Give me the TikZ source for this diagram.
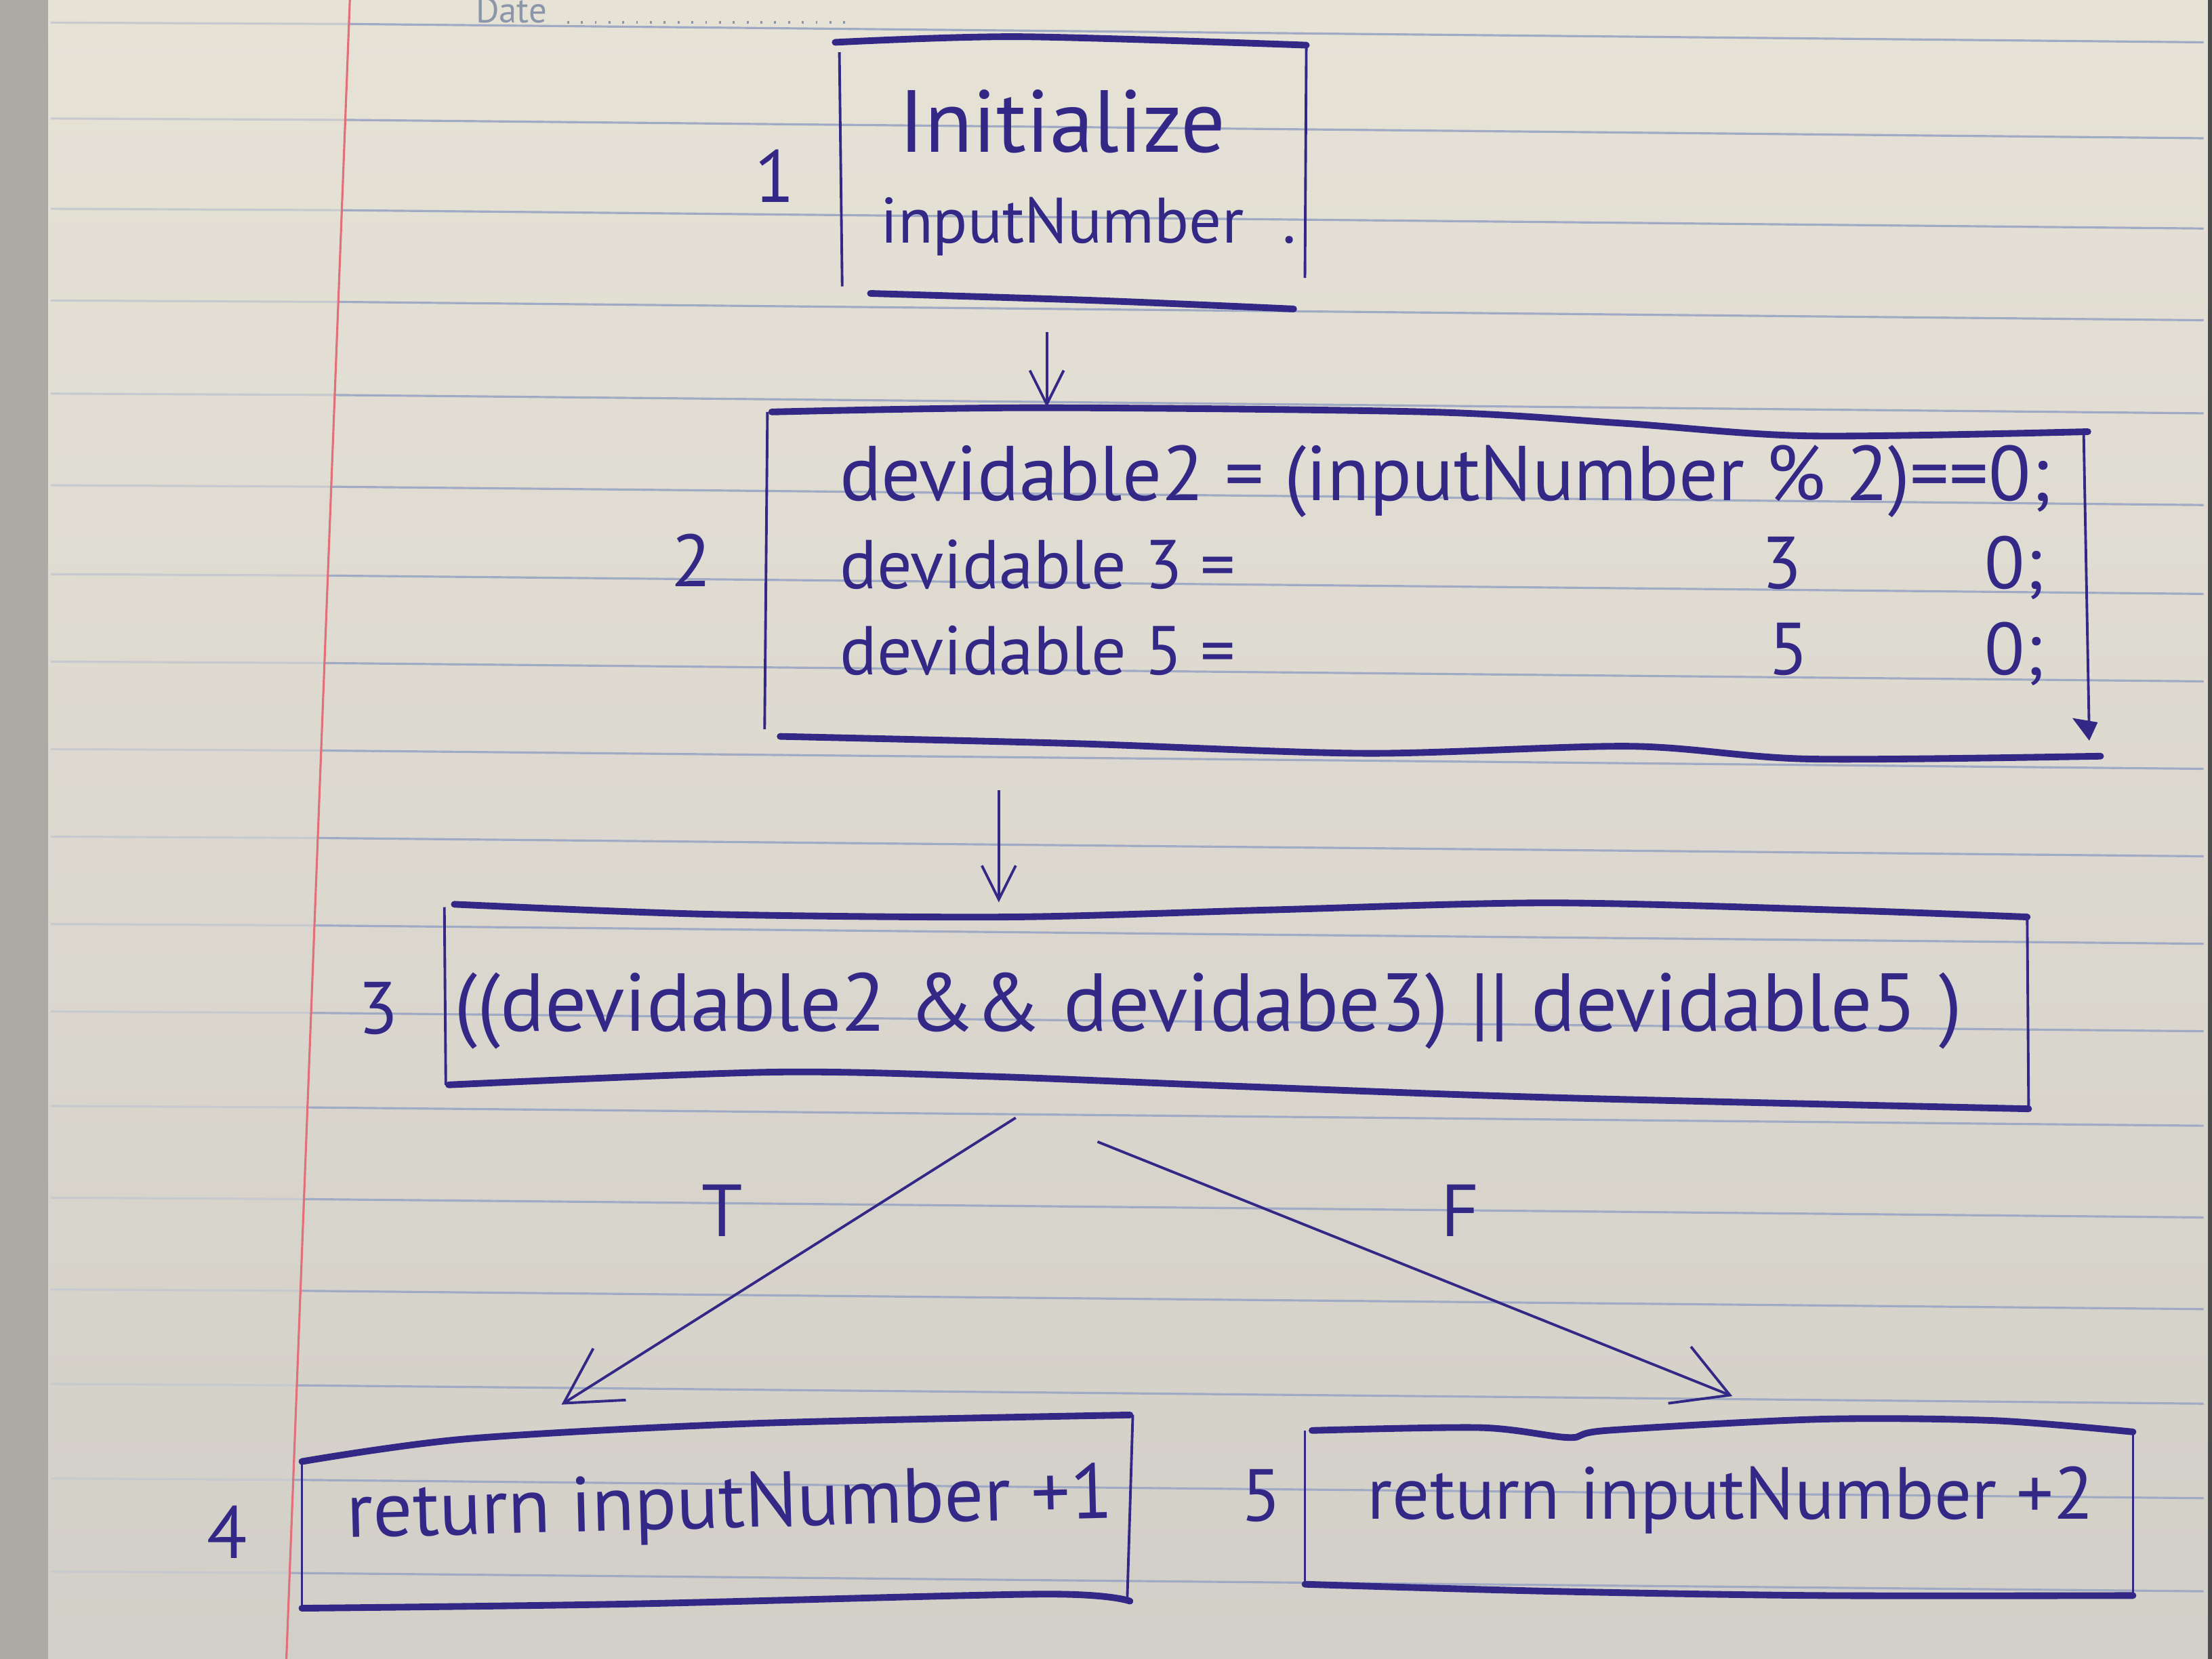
\documentclass[tikz,border=0pt]{standalone}
\usepackage{fontspec}
\setmainfont{PT Sans}
\usetikzlibrary{arrows.meta,calc,fit}

\definecolor{ink}{RGB}{52,40,135}
\definecolor{paper}{RGB}{230,226,214}
\definecolor{paperlow}{RGB}{210,207,200}
\definecolor{ruling}{RGB}{160,170,196}
\definecolor{margin}{RGB}{226,112,122}
\definecolor{printgrey}{RGB}{140,150,170}

\begin{document}
\begin{tikzpicture}[x=0.2082mm,y=-0.2082mm,
    hand/.style={text=ink,font=\fontsize{31}{38}\selectfont,inner sep=0pt},
    area/.style={inner sep=0pt},
    side/.style={draw=ink,line width=1.1pt},
    edge/.style={draw=ink,line width=2.8pt,line cap=round,line join=round},
    arr/.style={draw=ink,line width=1.1pt,-{Straight Barb[length=5mm,width=5mm]}},
    bigarr/.style={draw=ink,line width=1.1pt,-{Straight Barb[length=8mm,width=9mm]}},
    ruled/.style={draw=ruling,line width=0.9pt}]

    % paper
    \shade[top color=paper,bottom color=paperlow] (0,0) rectangle (1568,1176);
    \useasboundingbox (0,0) rectangle (1568,1176);
    \fill[black!18!paperlow] (0,0) rectangle (34,1176);
    \fill[black!70] (1565,0) rectangle (1568,1176);
    \foreach \ry in {20,88,152,217,283,348,411,473,535,597,659,721,788,853,918,985,1052,1118} {
      \pgfmathsetmacro\mx{248-0.03827*\ry}
      \draw[ruled,draw=ruling!45!paper] (36,\ry-4) -- (\mx,\ry-3);
      \draw[ruled] (\mx,\ry-3) -- (1562,\ry+10);
    }
    \draw[margin,line width=0.9pt] (248,0) -- (203,1176);
    \node[text=printgrey,font=\fontsize{15}{15}\selectfont,anchor=base west,inner sep=0pt] (date) at (337,16) {Date};
    \draw[printgrey,line width=1.2pt,dash pattern=on 0.8pt off 5pt] ($(date.base east)+(14,0)$) -- (600,16);

    % box 1
    \node[area,fit={(595,26) (926,219)}] (b1) {};
    \draw[side] (595,37) -- (597,203);
    \draw[side] (926,32) -- (925,197);
    \draw[edge] plot[smooth] coordinates {(592,30) (722,26) (926,32)};
    \draw[edge] plot[smooth] coordinates {(617,208) (777,213) (917,219)};
    \node[hand,font=\fontsize{37}{40}\selectfont,anchor=base] (t1a) at (753,108) {Initialize};
    \node[hand,font=\fontsize{27}{30}\selectfont,anchor=base west] (t1b) at (624,172) {inputNumber\hspace{0.6em}.};
    \node[hand] (l1) at (549,125) {1};

    % box 2
    \node[area,fit={(544,289) (1489,538)}] (b2) {};
    \draw[side] (544,292) -- (542,517);
    \draw[side] (1477,306) -- (1481,522);
    \draw[edge] plot[smooth] coordinates {(547,292) (735,289) (1012,292) (1150,300) (1282,309) (1480,306)};
    \draw[edge] plot[smooth] coordinates {(553,522) (760,527) (968,534) (1156,529) (1282,538) (1489,536)};
    \fill[ink] (1469,509) -- (1487,512) -- (1481,525) -- cycle;
    \node[hand,font=\fontsize{32.6}{38}\selectfont,anchor=base west] (t2a) at (595,355) {devidable2 = (inputNumber \% 2)==0;};
    \node[hand,font=\fontsize{29}{38}\selectfont,anchor=base west] (t2b) at (595,417) {devidable 3 =};
    \node[hand,anchor=base] (t2b3) at (1263,417) {3};
    \node[hand,anchor=base] (t2b0) at (1428,417) {0;};
    \node[hand,font=\fontsize{29}{38}\selectfont,anchor=base west] (t2c) at (595,478) {devidable 5 =};
    \node[hand,anchor=base] (t2c5) at (1268,478) {5};
    \node[hand,anchor=base] (t2c0) at (1428,478) {0;};
    \node[hand] (l2) at (490,397) {2};

    % box 3
    \node[area,fit={(315,640) (1438,786)}] (b3) {};
    \draw[side] (315,643) -- (316,769);
    \draw[side] (1437,650) -- (1438,786);
    \draw[edge] plot[smooth] coordinates {(322,641) (500,648) (715,650) (900,645) (1097,640) (1300,645) (1437,650)};
    \draw[edge] plot[smooth] coordinates {(318,769) (546,760) (700,763) (877,770) (1100,778) (1438,786)};
    \node[hand,font=\fontsize{34.5}{38}\selectfont,anchor=base west] (t3) at (322,731) {((devidable2 \&\& devidabe3) || devidable5 )};
    \node[hand] (l3) at (268,715) {3};

    % box 4
    \node[area,fit={(214,1003) (803,1140)}] (b4) {};
    \draw[side] (214,1036) -- (214,1140);
    \draw[side] (803,1003) -- (799,1135);
    \draw[edge] plot[smooth] coordinates {(214,1036) (330,1020) (534,1009) (801,1003)};
    \draw[edge] plot[smooth] coordinates {(214,1140) (445,1137) (739,1130) (801,1135)};
    \node[hand,font=\fontsize{32.7}{38}\selectfont,anchor=base west,rotate=1.5] (t4) at (246,1090) {return inputNumber +1};
    \node[hand] (l4) at (161,1086) {4};

    % box 5
    \node[area,fit={(925,1006) (1512,1131)}] (b5) {};
    \draw[side] (925,1014) -- (925,1123);
    \draw[side] (1512,1015) -- (1512,1131);
    \draw[edge] plot[smooth] coordinates {(930,1014) (1050,1012) (1112,1019) (1139,1014) (1290,1006) (1414,1007) (1512,1015)};
    \draw[edge] plot[smooth] coordinates {(925,1123) (1100,1128) (1290,1131) (1512,1131)};
    \node[hand,anchor=base west] (t5) at (969,1077) {return inputNumber +2};
    \node[hand] (l5) at (894,1060) {5};

    % arrows
    \coordinate (a1) at ($(b1.south)+(-18.5,16)$);
    \draw[arr] (a1) -- (a1 |- b2.north);
    \coordinate (a2) at ($(b2.south)+(-308.5,22)$);
    \draw[arr] (a2) -- (a2 |- b3.north);
    \draw[bigarr] ($(b3.south)+(-156.5,6)$) -- ($(b4.north)+(-110.5,-7)$);
    \draw[bigarr] ($(b3.south)+(-98.5,23)$) -- ($(b5.north)+(9.5,-16)$);
    \node[hand] (lt) at (512,858) {T};
    \node[hand] (lf) at (1035,858) {F};
\end{tikzpicture}
\end{document}
